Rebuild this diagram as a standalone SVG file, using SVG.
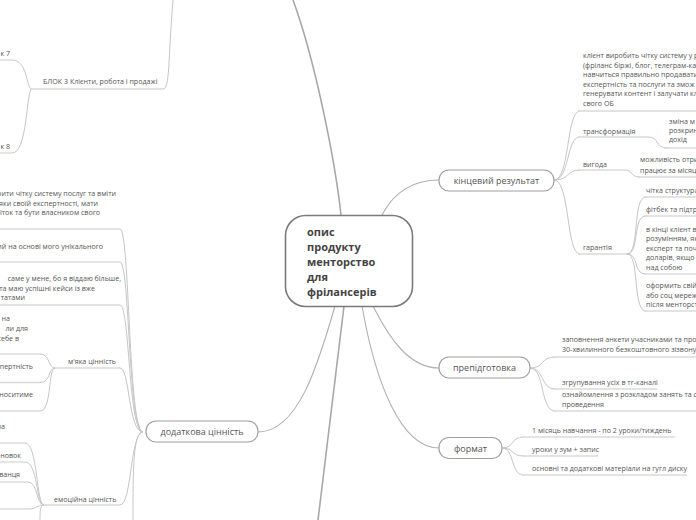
<svg xmlns="http://www.w3.org/2000/svg" width="696" height="520" viewBox="0 0 696 520">
<style>
.bg{fill:#fff}
.node rect{fill:#fff;stroke:#a0a0a0;stroke-width:1.2}
.nt{font-family:"Open Sans","Liberation Sans",sans-serif;font-size:9px;fill:#555;text-anchor:middle}
.ct{font-family:"Open Sans","Liberation Sans",sans-serif;font-size:11px;font-weight:bold;fill:#444}
.t{font-family:"Open Sans","Liberation Sans",sans-serif;font-size:7.1px;fill:#555}
.e{text-anchor:end}
.ul{stroke:#dadada;stroke-width:1.4;fill:none}
.c{stroke:#c6c6c6;stroke-width:1;fill:none}
.m{stroke:#b0b0b0;stroke-width:1.1;fill:none}
.s{stroke:#a8a8a8;stroke-width:1.6;fill:none}
</style>
<rect class="bg" x="0" y="0" width="696" height="520"/>
<g id="connectors">
  <path class="s" d="M341 215 C335 160 315 60 293 0"/>
  <path class="s" d="M344 306 L318 520"/>
  <path class="m" d="M382 215 C395 190 415 180 439 180"/>
  <path class="m" d="M373 306 C390 340 410 368 439 368"/>
  <path class="m" d="M362 306 C375 380 400 448 439 448"/>
  <path class="m" d="M335 306 C318 365 298 432 258 432"/>
  <path class="c" d="M163 89 C170 89 168 60 173 0"/>
  <path class="c" d="M32 89 C26 89 28 60 12 60"/>
  <path class="c" d="M32 89 C26 89 28 153 12 153"/>
  <path class="c" d="M143 432 C128 432 130 229 120 229"/>
  <path class="c" d="M143 432 C128 432 130 262 120 262"/>
  <path class="c" d="M143 432 C128 432 130 305 120 305"/>
  <path class="c" d="M143 432 C128 432 130 368 120 368"/>
  <path class="c" d="M143 432 C130 432 132 505 120 505"/>
  <path class="c" d="M143 432 C133 432 133 470 133 520"/>
  <path class="c" d="M55 368 C48 368 50 354 40 354"/>
  <path class="c" d="M55 368 C48 368 51 382.5 40 382.5"/>
  <path class="c" d="M55 368 C48 368 52 411 40 411"/>
  <path class="c" d="M44 505 C36 505 38 443 25 443"/>
  <path class="c" d="M44 505 C36 505 38 462 25 462"/>
  <path class="c" d="M44 505 C36 505 38 482 28 482"/>
  <path class="c" d="M44 505 C36 505 38 509 28 509"/>
  <path class="c" d="M44 505 C40 505 40 512 40 520"/>
  <path class="c" d="M554 180 C570 180 566 111 580 111"/>
  <path class="c" d="M554 180 C570 180 566 137 580 137"/>
  <path class="c" d="M554 180 C570 180 566 170 580 170"/>
  <path class="c" d="M554 180 C570 180 566 254 580 254"/>
  <path class="c" d="M648 137 C660 137 654 148 668 148"/>
  <path class="c" d="M625 170 C633 170 630 177 640 177"/>
  <path class="c" d="M627 254 C640 254 632 197 646 197"/>
  <path class="c" d="M627 254 C640 254 632 216 646 216"/>
  <path class="c" d="M627 254 C640 254 632 274 646 274"/>
  <path class="c" d="M627 254 C640 254 632 311 646 311"/>
  <path class="c" d="M530 368 C545 368 540 357 555 357"/>
  <path class="c" d="M530 368 C545 368 540 389 555 389"/>
  <path class="c" d="M530 368 C545 368 540 411 555 411"/>
  <path class="c" d="M502 448 C515 448 510 437 524 437"/>
  <path class="c" d="M502 448 C515 448 510 456 524 456"/>
  <path class="c" d="M502 448 C515 448 510 475 524 475"/>
</g>
<g id="center">
  <rect x="285.5" y="215.5" width="127" height="91" rx="20" fill="#fff" stroke="#7a7a7a" stroke-width="1.6"/>
  <text class="ct" x="307" y="236">опис</text>
  <text class="ct" x="307" y="251">продукту</text>
  <text class="ct" x="307" y="266">менторство</text>
  <text class="ct" x="307" y="281">для</text>
  <text class="ct" x="307" y="296">фрілансерів</text>
</g>
<g id="n-kinc" class="node">
  <rect x="439" y="170" width="115" height="21" rx="10"/>
  <text class="nt" x="496.5" y="184">кінцевий результат</text>
</g>
<g id="n-prep" class="node">
  <rect x="439" y="357" width="91" height="21" rx="10"/>
  <text class="nt" x="484.5" y="371">препідготовка</text>
</g>
<g id="n-format" class="node">
  <rect x="439" y="437.5" width="63" height="21" rx="10"/>
  <text class="nt" x="470.5" y="451.5">формат</text>
</g>
<g id="n-dodat" class="node">
  <rect x="146" y="421" width="112" height="21" rx="10"/>
  <text class="nt" x="202" y="435">додаткова цінність</text>
</g>
<g id="n-blok3">
  <path class="ul" d="M30 89 H163"/>
  <text class="t" x="43" y="84">БЛОК 3 Клієнти, робота і продажі</text>
</g>
<g id="n-u7"><path class="ul" d="M0 60 H12"/><text class="t e" x="10" y="56">к 7</text></g>
<g id="n-u8"><path class="ul" d="M0 153 H12"/><text class="t e" x="10" y="149">к 8</text></g>
<g id="n-l1">
  <path class="ul" d="M0 229 H120"/>
  <text class="t e" x="116" y="196">рити чітку систему послуг та вміти</text>
  <text class="t e" x="98" y="205.5">дяки своїй експертності, мати</text>
  <text class="t e" x="100" y="215">іток та бути власником свого</text>
</g>
<g id="n-l2">
  <path class="ul" d="M0 262 H120"/>
  <text class="t e" x="103" y="248.5">ий на основі мого унікального</text>
</g>
<g id="n-l3">
  <path class="ul" d="M0 305 H120"/>
  <text class="t e" x="121" y="281">саме у мене, бо я віддаю більше,</text>
  <text class="t e" x="95" y="291">та маю успішні кейси із вже</text>
  <text class="t e" x="25" y="300">татами</text>
</g>
<g id="n-myaka">
  <path class="ul" d="M55 368 H120"/>
  <text class="t" x="68" y="364">м'яка цінність</text>
</g>
<g id="n-m1">
  <path class="ul" d="M0 354 H40"/>
  <text class="t e" x="10" y="321">на</text>
  <text class="t e" x="28" y="331">ли для</text>
  <text class="t e" x="19" y="340.5">себе в</text>
</g>
<g id="n-m2"><path class="ul" d="M0 382.5 H40"/><text class="t e" x="33" y="369">пертність</text></g>
<g id="n-m3"><path class="ul" d="M0 411 H40"/><text class="t e" x="33" y="397">носитиме</text></g>
<g id="n-emo">
  <path class="ul" d="M44 505 H120"/>
  <text class="t" x="54" y="501.5">емоційна цінність</text>
</g>
<g id="n-e1"><path class="ul" d="M0 443 H25"/><text class="t e" x="5" y="429">на</text></g>
<g id="n-e2"><path class="ul" d="M0 462 H25"/><text class="t e" x="21" y="458">новок</text></g>
<g id="n-e3"><path class="ul" d="M0 482 H28"/><text class="t e" x="20" y="477">ванця</text></g>
<g id="n-e4"><path class="ul" d="M0 509 H28"/></g>
<g id="n-r1">
  <path class="ul" d="M578 111 H696"/>
  <text class="t" x="583" y="58">клієнт виробить чітку систему у р</text>
  <text class="t" x="583" y="67.5">(фріланс біржі, блог, телеграм-ка</text>
  <text class="t" x="583" y="77">навчиться правильно продавати</text>
  <text class="t" x="583" y="86.5">експертність та послуги та змож</text>
  <text class="t" x="583" y="96">генерувати контент і залучати кл</text>
  <text class="t" x="583" y="105.5">свого ОБ</text>
</g>
<g id="n-transf"><path class="ul" d="M578 137 H648"/><text class="t" x="583" y="133.5">трансформація</text></g>
<g id="n-zmina">
  <path class="ul" d="M664 148 H696"/>
  <text class="t" x="669" y="124">зміна м</text>
  <text class="t" x="669" y="133">розкрин</text>
  <text class="t" x="669" y="142">дохід</text>
</g>
<g id="n-vygoda"><path class="ul" d="M578 170 H625"/><text class="t" x="583" y="166.5">вигода</text></g>
<g id="n-mozhl">
  <path class="ul" d="M638 177 H696"/>
  <text class="t" x="640" y="162">можливість отри</text>
  <text class="t" x="640" y="172.5">працює за місяц</text>
</g>
<g id="n-garant"><path class="ul" d="M578 254 H627"/><text class="t" x="583" y="250">гарантія</text></g>
<g id="n-g1"><path class="ul" d="M644 197 H696"/><text class="t" x="646" y="193">чітка структура</text></g>
<g id="n-g2"><path class="ul" d="M644 216 H696"/><text class="t" x="646" y="212">фітбек та підтр</text></g>
<g id="n-g3">
  <path class="ul" d="M644 274 H696"/>
  <text class="t" x="646" y="231.5">в кінці клієнт в</text>
  <text class="t" x="646" y="241">розумінням, як</text>
  <text class="t" x="646" y="250.5">експерт та поч</text>
  <text class="t" x="646" y="260">доларів, якщо</text>
  <text class="t" x="646" y="269.5">над собою</text>
</g>
<g id="n-g4">
  <path class="ul" d="M644 311 H696"/>
  <text class="t" x="646" y="288">оформить свій</text>
  <text class="t" x="646" y="297.5">або соц мереж</text>
  <text class="t" x="646" y="307">після менторст</text>
</g>
<g id="n-p1">
  <path class="ul" d="M553 357 H696"/>
  <text class="t" x="562" y="341.5">заповнення анкети учасниками та проз</text>
  <text class="t" x="562" y="352">30-хвилинного безкоштовного зізвону-</text>
</g>
<g id="n-p2"><path class="ul" d="M553 389 H657"/><text class="t" x="562" y="385">згрупування усіх в тг-каналі</text></g>
<g id="n-p3">
  <path class="ul" d="M553 411 H696"/>
  <text class="t" x="562" y="397">ознайомлення з розкладом занять та с</text>
  <text class="t" x="562" y="406.5">проведення</text>
</g>
<g id="n-f1"><path class="ul" d="M523 437 H675"/><text class="t" x="532" y="432.5">1 місяць навчання - по 2 уроки/тиждень</text></g>
<g id="n-f2"><path class="ul" d="M523 456 H598"/><text class="t" x="532" y="451.5">уроки у зум + запис</text></g>
<g id="n-f3"><path class="ul" d="M523 475 H687"/><text class="t" x="532" y="470.5">основні та додаткові матеріали на гугл диску</text></g>
</svg>
